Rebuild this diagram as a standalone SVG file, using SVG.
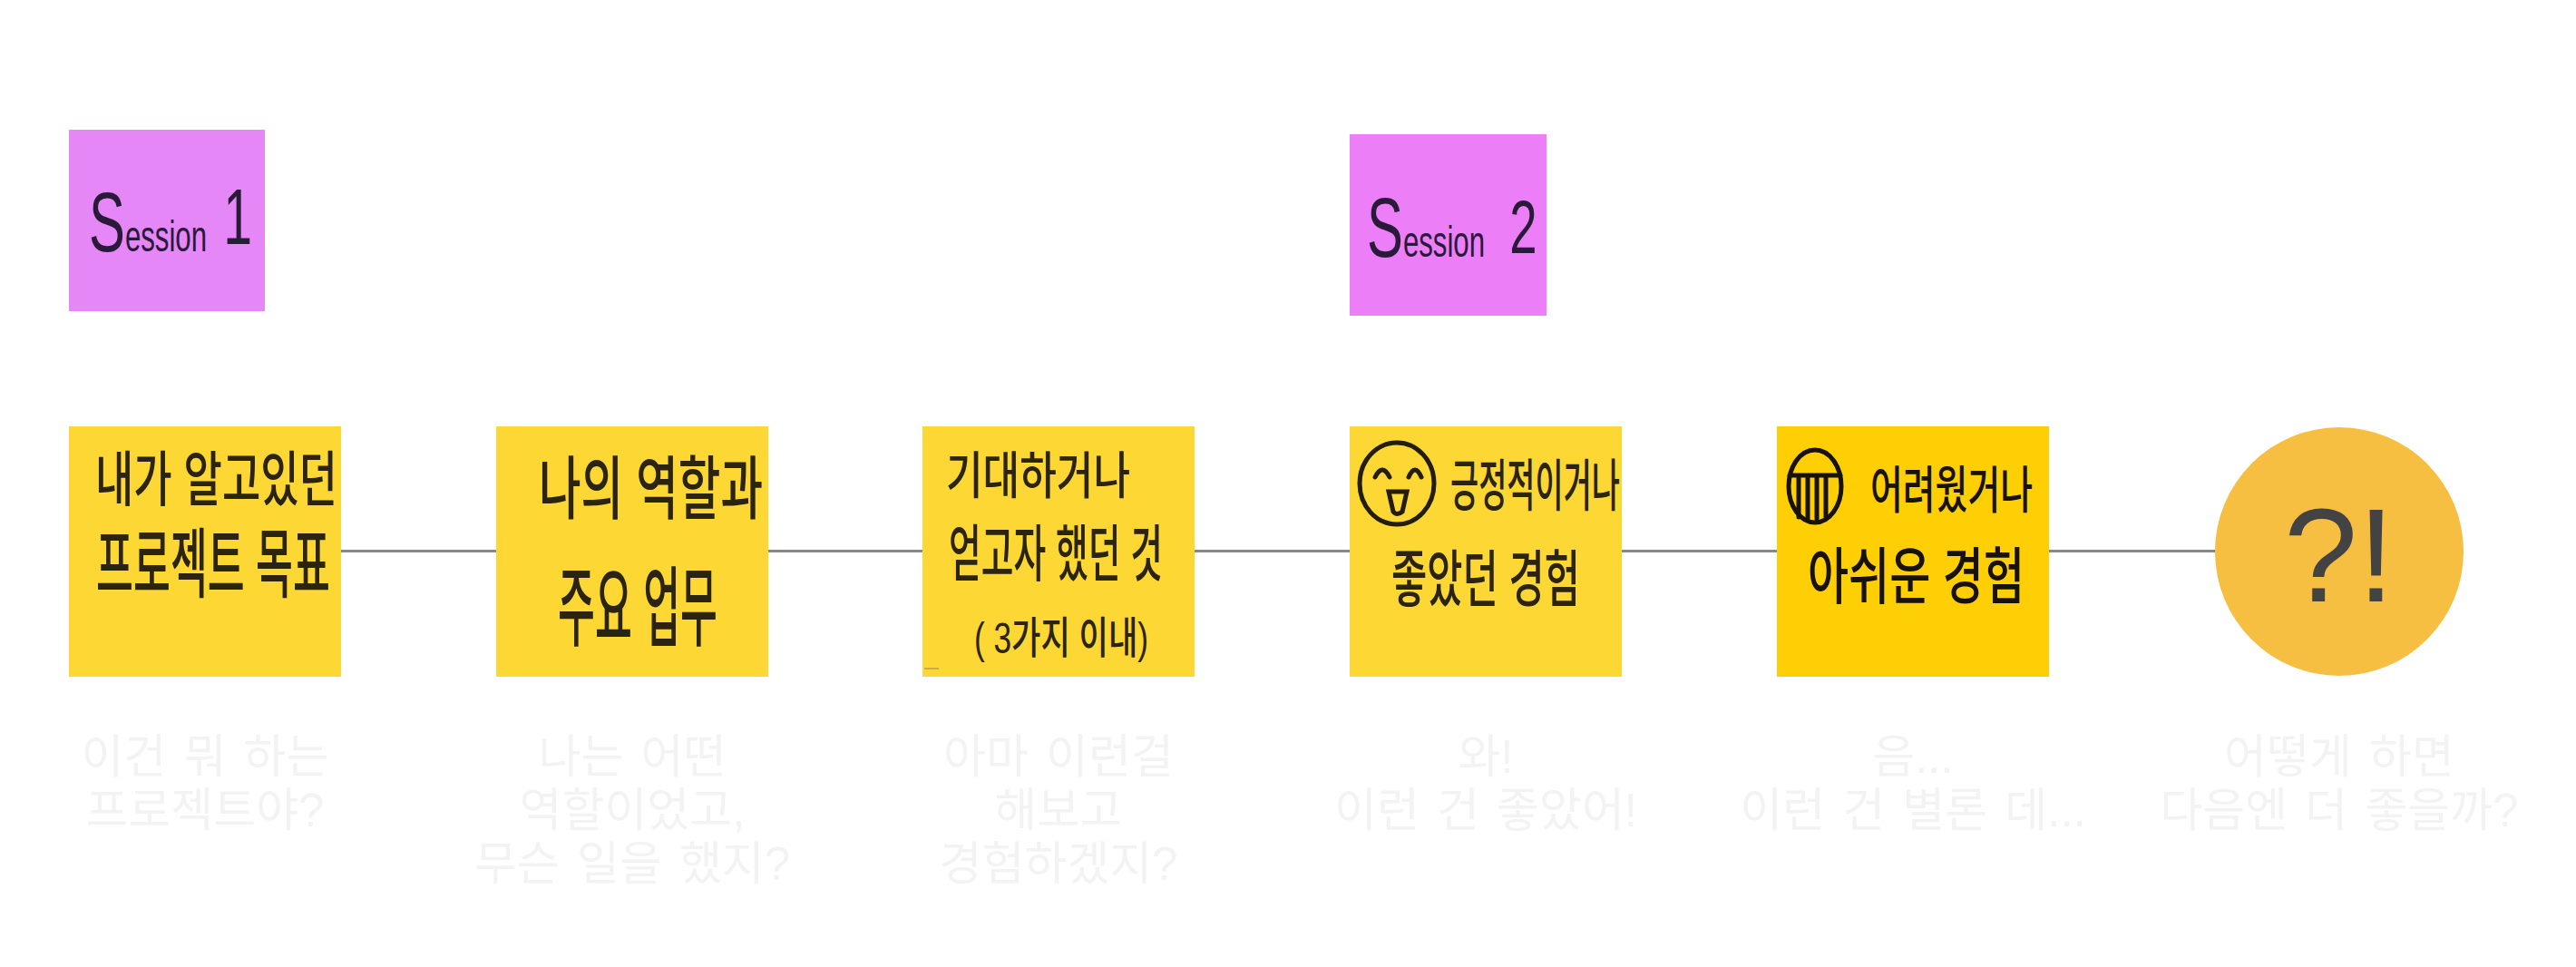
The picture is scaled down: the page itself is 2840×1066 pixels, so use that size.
<svg xmlns="http://www.w3.org/2000/svg" width="2840" height="1066" viewBox="0 0 2840 1066">
<style>
.n{fill:#fdd733}
.h{font-family:"Liberation Sans","Noto Sans CJK KR",sans-serif;fill:#2a2410;font-weight:500}
.s{font-family:"Liberation Sans",sans-serif;fill:#2a1a3a;font-weight:400}
.c{font-family:"Liberation Sans","Noto Sans CJK KR",sans-serif;font-size:51px;fill:#f3f3f3;text-anchor:middle;word-spacing:5px}
.l{stroke:#888;stroke-width:3;fill:none}
.d{fill:none;stroke:#231d0c;stroke-width:5;stroke-linecap:round}
</style>
<rect width="2840" height="1066" fill="#fff"/>
<g id="connectors">
<line class="l" x1="376" y1="607.5" x2="547" y2="607.5"/>
<line class="l" x1="847" y1="607.5" x2="1017" y2="607.5"/>
<line class="l" x1="1317" y1="607.5" x2="1488" y2="607.5"/>
<line class="l" x1="1788" y1="607.5" x2="1959" y2="607.5"/>
<line class="l" x1="2259" y1="607.5" x2="2442" y2="607.5"/>
</g>
<g id="session1">
<rect x="76" y="143" width="216" height="200" fill="#e587f7"/>
<text class="s" transform="translate(98 277) scale(.65 1)" font-size="48"><tspan font-size="92">S</tspan>ession<tspan dx="28" dy="-8" font-size="88">1</tspan></text>
</g>
<g id="session2">
<rect x="1488" y="148" width="217" height="200" fill="#ec7ff7"/>
<text class="s" transform="translate(1507 283) scale(.65 1)" font-size="48"><tspan font-size="92">S</tspan>ession<tspan dx="42" dy="-4" font-size="84">2</tspan></text>
</g>
<g id="note1">
<rect class="n" x="76" y="470" width="300" height="276"/>
<text class="h" x="105" y="552" font-size="66" textLength="267" lengthAdjust="spacingAndGlyphs">내가 알고있던</text>
<text class="h" x="106" y="652" font-size="84" textLength="258" lengthAdjust="spacingAndGlyphs">프로젝트 목표</text>
</g>
<g id="note2">
<rect class="n" x="547" y="470" width="300" height="276"/>
<text class="h" x="594" y="566" font-size="76" textLength="247" lengthAdjust="spacingAndGlyphs">나의 역할과</text>
<text class="h" x="615" y="704" font-size="96" textLength="176" lengthAdjust="spacingAndGlyphs">주요 업무</text>
</g>
<g id="note3">
<rect class="n" x="1017" y="470" width="300" height="276"/>
<text class="h" x="1043" y="544" font-size="56" textLength="203" lengthAdjust="spacingAndGlyphs">기대하거나</text>
<text class="h" x="1046" y="635" font-size="68" textLength="236" lengthAdjust="spacingAndGlyphs">얻고자 했던 것</text>
<text class="h" x="1074" y="720" font-size="48" textLength="192" lengthAdjust="spacingAndGlyphs">( 3가지 이내)</text>
<path d="M1019 737h16" stroke="#b7a24a" stroke-width="1.5"/>
</g>
<g id="note4">
<rect class="n" x="1488" y="470" width="300" height="276"/>
<ellipse class="d" cx="1540" cy="533" rx="41" ry="45"/>
<path class="d" d="M1516 526q8-16 16 0M1553 526q7-16 14 0M1531 542h20l-5 22q-6 5-10 0z"/>
<text class="h" x="1599" y="558" font-size="62" textLength="187" lengthAdjust="spacingAndGlyphs">긍정적이거나</text>
<text class="h" x="1534" y="663" font-size="68" textLength="208" lengthAdjust="spacingAndGlyphs">좋았던 경험</text>
</g>
<g id="note5">
<rect x="1959" y="470" width="300" height="276" fill="#ffcf06"/>
<ellipse class="d" style="stroke:#17120a" cx="2001" cy="536" rx="29" ry="40"/>
<path class="d" style="stroke:#17120a" d="M1973 524h56M1983 526v44M1993 526v46M2003 526v46M2013 526v44"/>
<text class="h" style="fill:#17120a" x="2062" y="560" font-size="56" textLength="179" lengthAdjust="spacingAndGlyphs">어려웠거나</text>
<text class="h" style="fill:#17120a" x="1993" y="660" font-size="68" textLength="239" lengthAdjust="spacingAndGlyphs">아쉬운 경험</text>
</g>
<g id="result">
<circle cx="2579" cy="608" r="137" fill="#f6bf41"/>
<text x="2579" y="663" font-family="'Liberation Sans',sans-serif" font-size="146" fill="#434343" text-anchor="middle">?!</text>
</g>
<g id="captions">
<text class="c" x="226" y="852">이건 뭐 하는</text>
<text class="c" x="226" y="911">프로젝트야?</text>
<text class="c" x="697" y="852">나는 어떤</text>
<text class="c" x="697" y="911">역할이었고,</text>
<text class="c" x="697" y="970">무슨 일을 했지?</text>
<text class="c" x="1167" y="852">아마 이런걸</text>
<text class="c" x="1167" y="911">해보고</text>
<text class="c" x="1167" y="970">경험하겠지?</text>
<text class="c" x="1638" y="852">와!</text>
<text class="c" x="1638" y="911">이런 건 좋았어!</text>
<text class="c" x="2109" y="852">음...</text>
<text class="c" x="2109" y="911">이런 건 별론 데...</text>
<text class="c" x="2579" y="852">어떻게 하면</text>
<text class="c" x="2579" y="911">다음엔 더 좋을까?</text>
</g>
</svg>
